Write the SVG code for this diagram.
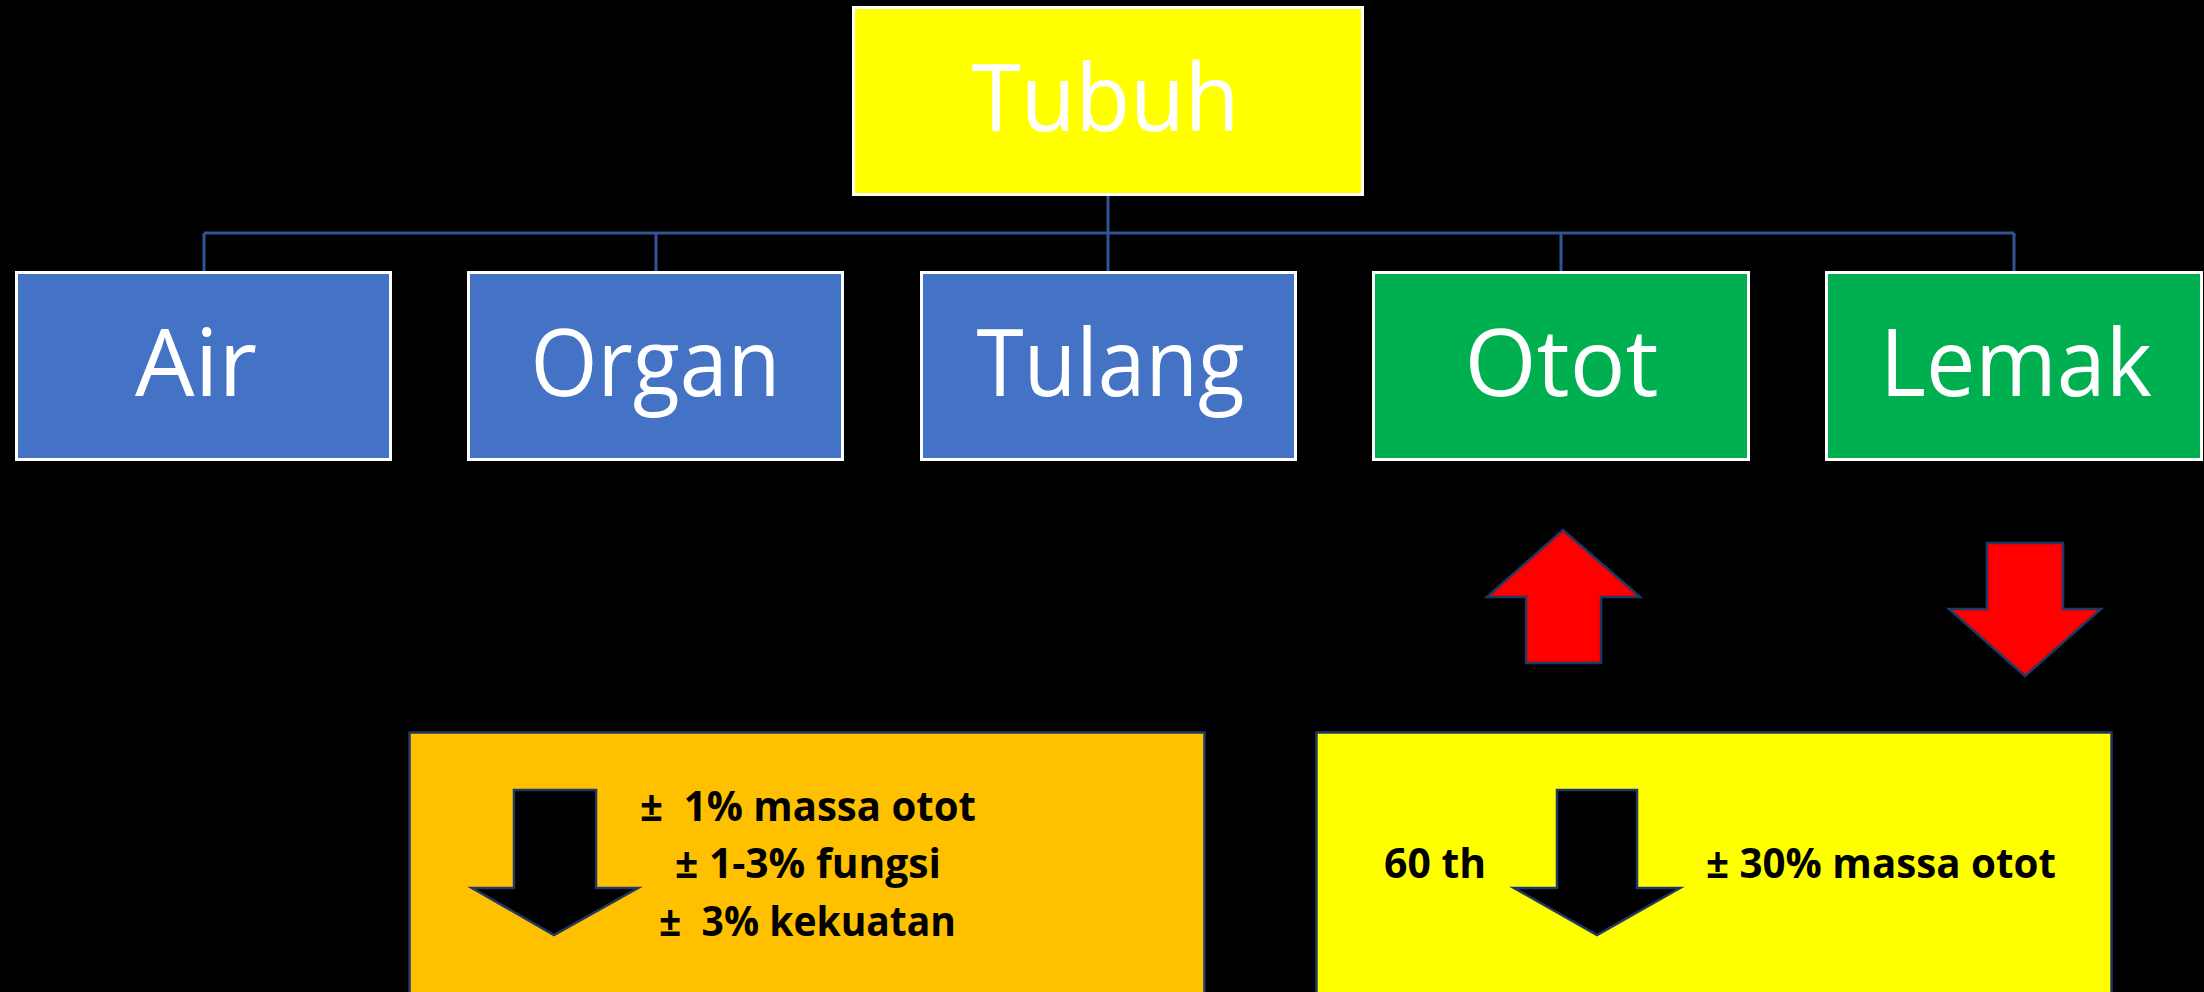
<svg xmlns="http://www.w3.org/2000/svg" width="2204" height="992" viewBox="0 0 2204 992">
  <style>
    .big { font-family: "Open Sans", "Noto Sans", sans-serif; font-size: 93px; fill: #FFFFFF; text-anchor: middle; }
    .bold { font-family: "Open Sans", "Noto Sans", sans-serif; font-weight: bold; font-size: 41px; fill: #000000; }
    .box { stroke: #FFFFFF; stroke-width: 3; }
    .blue { fill: #4472C4; }
    .green { fill: #00B050; }
    .conn { stroke: #2F5597; stroke-width: 3; fill: none; }
    .red { fill: #FF0000; stroke: #1F3864; stroke-width: 2.5; stroke-linejoin: miter; }
    .blk { fill: #000000; stroke: #1F3864; stroke-width: 2.5; }
    .panel { stroke: #1F3864; stroke-width: 2.5; }
  </style>
  <rect x="0" y="0" width="2204" height="992" fill="#000000"/>

  <g id="connectors">
    <path class="conn" d="M1108 195 V233 M204 233 H2014 M204 233 V272 M656 233 V272 M1108 233 V272 M1561 233 V272 M2014 233 V272"/>
  </g>

  <g id="tubuh">
    <rect class="box" x="853.5" y="7.5" width="509" height="187" fill="#FFFF00"/>
    <text class="big" x="1105.5" y="131" textLength="268" lengthAdjust="spacingAndGlyphs">Tubuh</text>
  </g>
  <g id="air">
    <rect class="box blue" x="16.5" y="272.5" width="374" height="187"/>
    <text class="big" x="196" y="396" textLength="122" lengthAdjust="spacingAndGlyphs">Air</text>
  </g>
  <g id="organ">
    <rect class="box blue" x="468.5" y="272.5" width="374" height="187"/>
    <text class="big" x="655.5" y="396" textLength="250" lengthAdjust="spacingAndGlyphs">Organ</text>
  </g>
  <g id="tulang">
    <rect class="box blue" x="921.5" y="272.5" width="374" height="187"/>
    <text class="big" x="1110.5" y="396" textLength="268" lengthAdjust="spacingAndGlyphs">Tulang</text>
  </g>
  <g id="otot">
    <rect class="box green" x="1373.5" y="272.5" width="375" height="187"/>
    <text class="big" x="1561.5" y="396" textLength="194" lengthAdjust="spacingAndGlyphs">Otot</text>
  </g>
  <g id="lemak">
    <rect class="box green" x="1826.5" y="272.5" width="375" height="187"/>
    <text class="big" x="2016" y="396" textLength="272" lengthAdjust="spacingAndGlyphs">Lemak</text>
  </g>

  <g id="arrow-up">
    <polygon class="red" points="1563,530 1640,597 1601,597 1601,663 1526,663 1526,597 1487,597"/>
  </g>
  <g id="arrow-down">
    <polygon class="red" points="1987,543 2063,543 2063,609 2101,609 2025,676 1949,609 1987,609"/>
  </g>

  <g id="panel-left">
    <rect class="panel" x="409.5" y="732.5" width="795" height="300" fill="#FFC000"/>
    <polygon class="blk" points="514,790 596,790 596,888 638,888 554,935 472,888 514,888"/>
    <text class="bold" xml:space="preserve" x="640" y="821" textLength="336" lengthAdjust="spacingAndGlyphs">±  1% massa otot</text>
    <text class="bold" xml:space="preserve" x="675" y="878" textLength="266" lengthAdjust="spacingAndGlyphs">± 1-3% fungsi</text>
    <text class="bold" xml:space="preserve" x="659" y="936" textLength="297" lengthAdjust="spacingAndGlyphs">±  3% kekuatan</text>
  </g>

  <g id="panel-right">
    <rect class="panel" x="1316.5" y="732.5" width="795" height="300" fill="#FFFF00"/>
    <polygon class="blk" points="1557,790 1637,790 1637,888 1680,888 1597,935 1514,888 1557,888"/>
    <text class="bold" x="1384" y="878" textLength="102" lengthAdjust="spacingAndGlyphs">60 th</text>
    <text class="bold" x="1706" y="878" textLength="350" lengthAdjust="spacingAndGlyphs">± 30% massa otot</text>
  </g>
</svg>
